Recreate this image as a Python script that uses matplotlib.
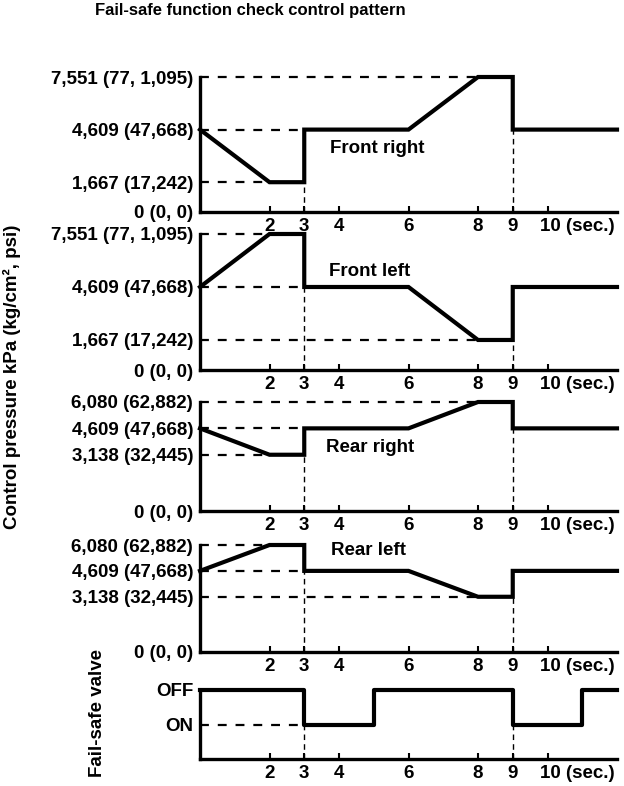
import matplotlib
matplotlib.use("Agg")
import matplotlib.pyplot as plt
import matplotlib.transforms as mtrans

plt.rcParams['font.family'] = ['Liberation Sans', 'DejaVu Sans']
plt.rcParams['font.weight'] = 'bold'

# ---------------- data ----------------
title = "Fail-safe function check control pattern"
ylabel_main = "Control pressure kPa (kg/cm², psi)"
ylabel_valve = "Fail-safe valve"

time_pts = [0, 2, 3, 3, 6, 8, 9, 9, 12]
front_right = [4609, 1667, 1667, 4609, 4609, 7551, 7551, 4609, 4609]
front_left = [4609, 7551, 7551, 4609, 4609, 1667, 1667, 4609, 4609]
rear_right = [4609, 3138, 3138, 4609, 4609, 6080, 6080, 4609, 4609]
rear_left = [4609, 6080, 6080, 4609, 4609, 3138, 3138, 4609, 4609]

valve_time = [0, 3, 3, 5, 5, 9, 9, 11, 11, 12]
valve_state = [2, 2, 1, 1, 2, 2, 1, 1, 2, 2]   # 2 = OFF, 1 = ON

guide_times = [3, 9]

front_levels = [0, 1667, 4609, 7551]
front_level_labels = ["0 (0, 0)", "1,667 (17,242)", "4,609 (47,668)", "7,551 (77, 1,095)"]
rear_levels = [0, 3138, 4609, 6080]
rear_level_labels = ["0 (0, 0)", "3,138 (32,445)", "4,609 (47,668)", "6,080 (62,882)"]
valve_levels = [1, 2]
valve_level_labels = ["ON", "OFF"]

x_ticks = [2, 3, 4, 6, 8, 9, 10]
x_tick_labels = ["2", "3", "4", "6", "8", "9", "10 (sec.)"]

panel_names = ["Front right", "Front left", "Rear right", "Rear left"]
# ---------------------------------------

W, H = 624, 786
fig = plt.figure(figsize=(W / 100, H / 100), dpi=100)

def px_axes(top, bottom, left=200, right=617):
    return fig.add_axes([left / W, (H - bottom) / H, (right - left) / W, (bottom - top) / H])

FS = 13.5

def style_axis(ax, levels, level_labels, ymax):
    ax.set_xlim(0, 12)
    ax.set_ylim(0, ymax)
    for s in ['top', 'right']:
        ax.spines[s].set_visible(False)
    for s in ['left', 'bottom']:
        ax.spines[s].set_linewidth(2.4)
        ax.spines[s].set_capstyle('projecting')
    ax.set_yticks(levels)
    ax.set_yticklabels(level_labels, fontsize=FS, fontweight='bold')
    ax.tick_params(axis='y', length=0, pad=5)
    ax.set_xticks(x_ticks)
    ax.set_xticklabels(x_tick_labels, fontsize=FS, fontweight='bold')
    ax.tick_params(axis='x', direction='in', length=4, width=1.5, pad=4.5)
    labs = ax.get_xticklabels()
    labs[-1].set_horizontalalignment('left')
    labs[-1].set_transform(labs[-1].get_transform() +
                           mtrans.ScaledTranslation(-8 / 100, 0, fig.dpi_scale_trans))
    ax.patch.set_visible(False)

def guides(ax, t, v, levels):
    # horizontal dashed guides from the axis to where the curve reaches the level
    for lv in levels:
        if lv == 0:
            continue
        for i in range(1, len(v)):
            if v[i] == lv:
                ax.plot([0, t[i]], [lv, lv], color='black', lw=1.6,
                        dashes=(4, 4), clip_on=False, zorder=2)
                break
    # vertical dash guides at the step times
    for i in range(1, len(t)):
        if t[i] == t[i - 1] and t[i] in guide_times:
            low = min(v[i], v[i - 1])
            ax.plot([t[i], t[i]], [0, low], color='black', lw=1.0,
                    dashes=(4, 3), clip_on=False, zorder=2)

panels = [
    (77, 212, front_right, front_levels, front_level_labels, 7551, (3.75, 3550)),
    (234, 370, front_left, front_levels, front_level_labels, 7551, (3.7, 5450)),
    (402, 511, rear_right, rear_levels, rear_level_labels, 6080, (3.64, 3530)),
    (545, 652, rear_left, rear_levels, rear_level_labels, 6080, (3.76, 5750)),
]

for (top, bottom, vals, levels, labels, ymax, txt), name in zip(panels, panel_names):
    ax = px_axes(top, bottom)
    style_axis(ax, levels, labels, ymax)
    guides(ax, time_pts, vals, levels)
    ax.plot(time_pts, vals, color='black', lw=3.0, solid_joinstyle='miter',
            clip_on=False, zorder=3)
    ax.text(txt[0], txt[1], name, fontsize=FS, fontweight='bold',
            ha='left', va='center')

# valve panel
axv = px_axes(690, 759)
style_axis(axv, valve_levels, valve_level_labels, 2)
guides(axv, valve_time, valve_state, valve_levels)
axv.plot(valve_time, valve_state, color='black', lw=3.0, clip_on=False, zorder=3)

fig.text(250 / W, 1 - 11 / H, title, fontsize=12, fontweight='bold',
         ha='center', va='center')
fig.text(12 / W, 1 - 377 / H, ylabel_main, fontsize=13.5, fontweight='bold',
         rotation=90, ha='center', va='center')
fig.text(97 / W, 1 - 713 / H, ylabel_valve, fontsize=13.5, fontweight='bold',
         rotation=90, ha='center', va='center')

fig.savefig("out.png", dpi=100)
